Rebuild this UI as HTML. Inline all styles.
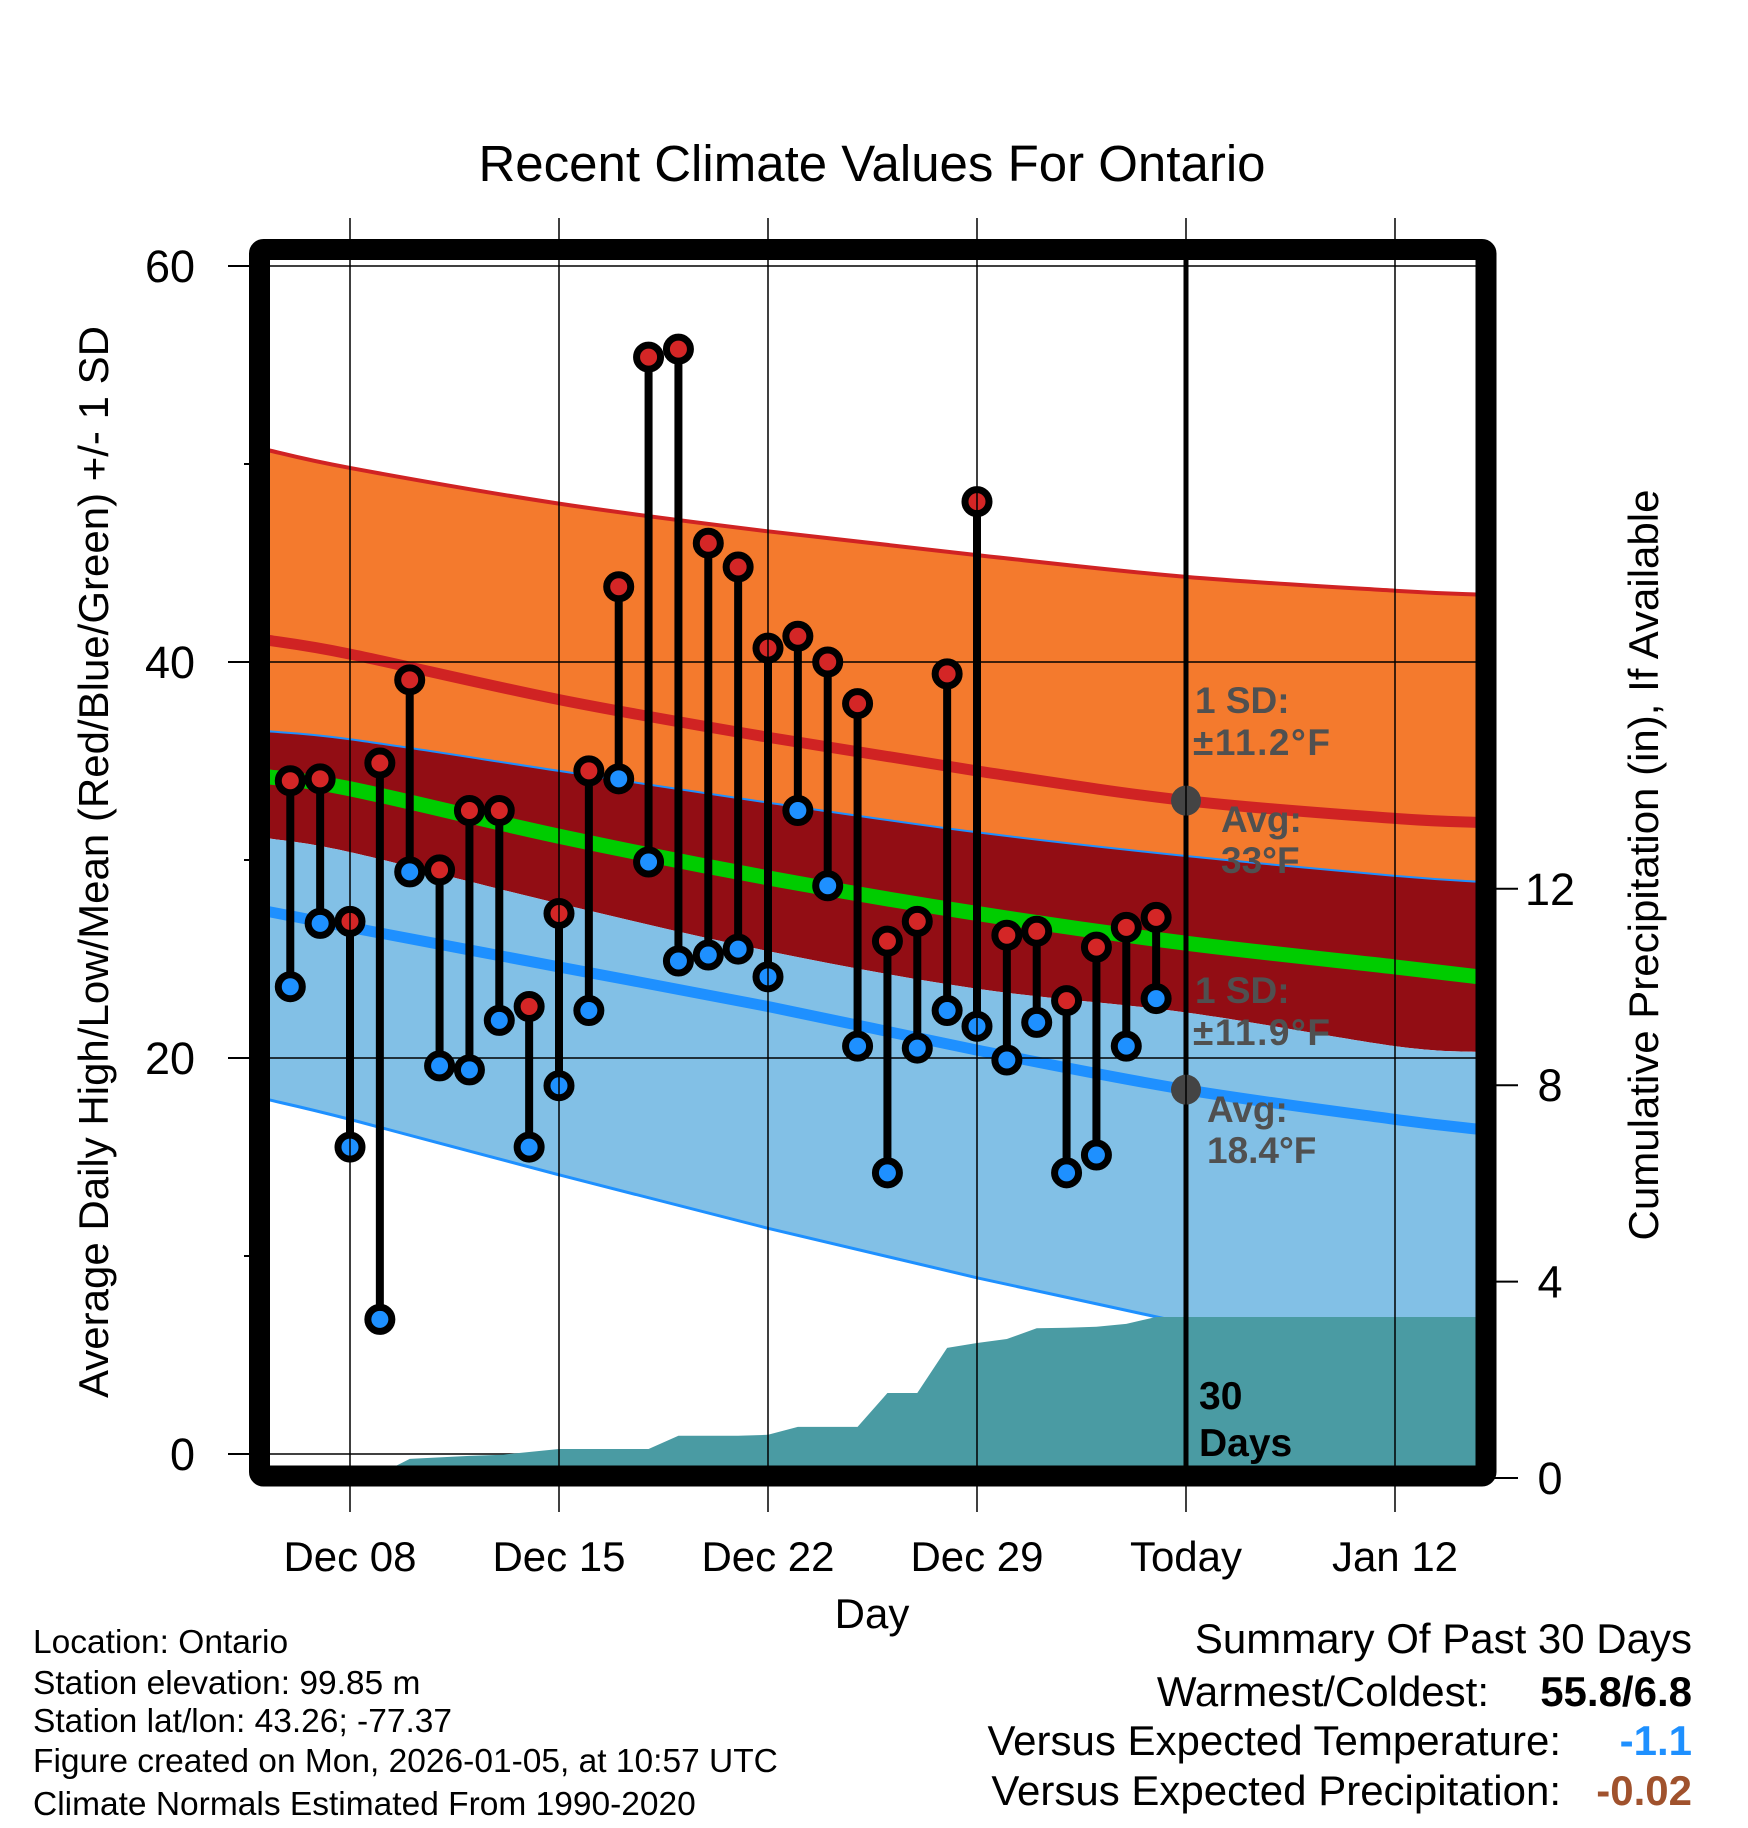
<!DOCTYPE html>
<html><head><meta charset="utf-8"><style>
html,body{margin:0;padding:0;background:#fff;}
svg{display:block;font-family:"Liberation Sans",sans-serif;}
</style></head><body>
<svg id="chart" width="1748" height="1828" viewBox="0 0 1748 1828">
<defs><clipPath id="pc"><rect x="260" y="250" width="1226" height="1226"/></clipPath></defs>
<g id="bands" clip-path="url(#pc)"></g>
<g id="axes"></g>
</svg>
<script>
// ---- data ----
const days = ["Dec 06","Dec 07","Dec 08","Dec 09","Dec 10","Dec 11","Dec 12","Dec 13","Dec 14","Dec 15","Dec 16","Dec 17","Dec 18","Dec 19","Dec 20","Dec 21","Dec 22","Dec 23","Dec 24","Dec 25","Dec 26","Dec 27","Dec 28","Dec 29","Dec 30","Dec 31","Jan 01","Jan 02","Jan 03","Jan 04"];
const highs = [34.0,34.1,26.9,34.9,39.1,29.5,32.5,32.5,22.6,27.3,34.5,43.8,55.4,55.8,46.0,44.8,40.7,41.3,40.0,37.9,25.9,26.9,39.4,48.1,26.2,26.4,22.9,25.6,26.6,27.1];
const lows  = [23.6,26.8,15.5,6.8,29.4,19.6,19.4,21.9,15.5,18.6,22.4,34.1,29.9,24.9,25.2,25.5,24.1,32.5,28.7,20.6,14.2,20.5,22.4,21.6,19.9,21.8,14.2,15.1,20.6,23.0];
const precip = [0,0,0,0.08,0.39,0.42,0.45,0.47,0.53,0.59,0.59,0.59,0.59,0.86,0.86,0.86,0.88,1.04,1.04,1.04,1.73,1.73,2.65,2.75,2.83,3.05,3.06,3.08,3.14,3.28];
// normals: day offsets from Dec 08
const normDays   = [-2.75,0,7,14,21,28,35,37.8];
const highPlusSD = [50.7,49.8,48.0,46.6,45.4,44.3,43.6,43.4];
const highMean   = [41.1,40.4,38.1,36.2,34.5,33.0,32.1,31.9];
const highMinusSD= [36.5,36.1,34.5,32.9,31.4,30.2,29.2,28.9];
const meanTemp   = [34.2,33.6,31.2,29.1,27.3,25.8,24.6,24.1];
const lowPlusSD  = [31.1,30.4,27.8,25.4,23.5,22.3,20.6,20.3];
const lowMean    = [27.4,26.6,24.6,22.6,20.4,18.4,16.9,16.4];
const lowMinusSD = [17.9,16.9,14.1,11.4,8.9,6.6,4.5,3.6];
const xTickLabels = ["Dec 08","Dec 15","Dec 22","Dec 29","Today","Jan 12"];
const yTicks = [0,20,40,60];
const yMinor = [10,30,50];
const pTicks = [0,4,8,12];

// ---- scales ----
const X = d => 350 + d*29.857;
const Y = v => 1454 - v*19.8;
const P = v => 1478 - v*49.1;
const NS = "http://www.w3.org/2000/svg";
function mk(tag, attrs, parent, txt){const e=document.createElementNS(NS,tag);for(const k in attrs)e.setAttribute(k,attrs[k]);if(txt!=null)e.textContent=txt;parent.appendChild(e);return e;}
const bands=document.getElementById('bands'), axes=document.getElementById('axes');

function pts(arr){return normDays.map((d,i)=>[X(d),Y(arr[i])]);}
function smooth(p){let s=`M${p[0][0]},${p[0][1]}`;for(let i=0;i<p.length-1;i++){const p0=p[i-1]||p[i],p1=p[i],p2=p[i+1],p3=p[i+2]||p2;s+=` C${p1[0]+(p2[0]-p0[0])/6},${p1[1]+(p2[1]-p0[1])/6} ${p2[0]-(p3[0]-p1[0])/6},${p2[1]-(p3[1]-p1[1])/6} ${p2[0]},${p2[1]}`;}return s;}
function smoothRev(p){const r=p.slice().reverse();return smooth(r).replace(/^M/,'L');}
function band(top,bot,fill,name){const e=mk('path',{d:smooth(pts(top))+' '+smoothRev(pts(bot))+' Z',fill:fill},bands);}
band(highPlusSD,highMinusSD,'#f47a2d','high-sd-band');
band(highMinusSD,lowPlusSD,'#920d14','overlap-band');
band(lowPlusSD,lowMinusSD,'#82c0e6','low-sd-band');
function line(arr,col,w,name){const e=mk('path',{d:smooth(pts(arr)),fill:'none',stroke:col,'stroke-width':w},bands);}
line(highPlusSD,'#d02323',4,'high-plus-sd-line');
line(highMinusSD,'#1e90ff',2,'high-minus-sd-line');
line(lowMinusSD,'#1e90ff',3,'low-minus-sd-line');
line(highMean,'#d02323',11,'high-mean-line');
line(meanTemp,'#00cc00',15,'mean-line');
line(lowMean,'#1e90ff',11,'low-mean-line');
yTicks.forEach(v=>{const e=mk('line',{x1:260,x2:1486,y1:Y(v),y2:Y(v),stroke:'#000','stroke-width':1.5},bands);});
xTickLabels.forEach((t,i)=>{const e=mk('line',{x1:X(i*7),x2:X(i*7),y1:218,y2:1512,stroke:'#000','stroke-width':1.5},axes);});
let pd=`M${X(-2)},${P(precip[0])}`;precip.forEach((v,i)=>{pd+=` L${X(i-2)},${P(v)}`;});
pd+=` L${X(37.8)},${P(precip[precip.length-1])} L${X(37.8)},${P(0)+30} L${X(-2)},${P(0)+30} Z`;
const pa=mk('path',{d:pd,fill:'#4a9ba3'},bands);


const tl=mk('line',{x1:X(28),x2:X(28),y1:250,y2:1476,stroke:'#000','stroke-width':5},bands);


days.forEach((d,i)=>{const x=X(i-2);
 const s=mk('line',{x1:x,x2:x,y1:Y(highs[i]),y2:Y(lows[i]),stroke:'#000','stroke-width':8},bands);
 
 
});
days.forEach((d,i)=>{const x=X(i-2);
 [[highs[i],'#d42626','high-marker'],[lows[i],'#1e90ff','low-marker']].forEach(([v,c,n])=>{
  const g=mk('g',{},bands);
  
  
  mk('circle',{cx:x,cy:Y(v),r:12,fill:c,stroke:'#000','stroke-width':7},g);
 });
});
[[highMean[5],'avg-high-dot'],[lowMean[5],'avg-low-dot']].forEach(([v,n])=>{const e=mk('circle',{cx:X(28),cy:Y(v),r:15,fill:'#444'},bands);});
function txt(x,y,s,attrs,name,parent){const e=mk('text',Object.assign({x:x,y:y},attrs),parent||axes,s);return e;}
const ann={'font-size':37,'font-weight':'bold',fill:'#505050'};
txt(1195,713,'1 SD:',ann,'high-sd-label');txt(1193,755,'±11.2°F',Object.assign({textLength:137},ann),'high-sd-value');
txt(1221,832,'Avg:',ann,'high-avg-label');txt(1221,873,'33°F',ann,'high-avg-value');
txt(1195,1003,'1 SD:',ann,'low-sd-label');txt(1193,1045,'±11.9°F',Object.assign({textLength:137},ann),'low-sd-value');
txt(1207,1122,'Avg:',ann,'low-avg-label');txt(1207,1163,'18.4°F',ann,'low-avg-value');
txt(1199,1409,'30',{'font-size':39,'font-weight':'bold',fill:'#000'},'days-label-num');
txt(1199,1456,'Days',{'font-size':39,'font-weight':'bold',fill:'#000'},'days-label-text');
const fr=mk('rect',{x:259.5,y:249.5,width:1226.5,height:1226.5,fill:'none',stroke:'#000','stroke-width':21,rx:4},axes);


yTicks.forEach(v=>{mk('line',{x1:228,x2:260,y1:Y(v),y2:Y(v),stroke:'#000','stroke-width':2},axes);
 txt(195,Y(v)+16,String(v),{'font-size':45,'text-anchor':'end'},'y-tick-label');});
yMinor.forEach(v=>{mk('line',{x1:244,x2:260,y1:Y(v),y2:Y(v),stroke:'#000','stroke-width':2},axes);});
pTicks.forEach(v=>{mk('line',{x1:1486,x2:1518,y1:P(v),y2:P(v),stroke:'#000','stroke-width':2},axes);
 txt(1550,P(v)+16,String(v),{'font-size':45,'text-anchor':'middle'},'right-tick-label');});
xTickLabels.forEach((t,i)=>{txt(X(i*7),1571,t,{'font-size':42,'text-anchor':'middle'},'x-tick-label');});
txt(872,1628,'Day',{'font-size':42,'text-anchor':'middle'},'x-axis-title');
txt(872,181,'Recent Climate Values For Ontario',{'font-size':51,'text-anchor':'middle'},'chart-title');
txt(0,0,'Average Daily High/Low/Mean (Red/Blue/Green) +/- 1 SD',{'font-size':42,'text-anchor':'middle',transform:'translate(108,862) rotate(-90)'},'y-axis-title');
txt(0,0,'Cumulative Precipitation (in), If Available',{'font-size':42,'text-anchor':'middle',transform:'translate(1658,865) rotate(-90)'},'right-axis-title');
['Location: Ontario','Station elevation: 99.85 m','Station lat/lon: 43.26; -77.37','Figure created on Mon, 2026-01-05, at 10:57 UTC','Climate Normals Estimated From 1990-2020'].forEach((s,i)=>{
 txt(33,[1653,1694,1732,1772,1815][i],s,{'font-size':33.5},'footer-info-line');});
txt(1692,1653,'Summary Of Past 30 Days',{'font-size':42,'text-anchor':'end'},'summary-title');
txt(1489,1706,'Warmest/Coldest:',{'font-size':42,'text-anchor':'end'},'warmest-coldest-label');
txt(1692,1706,'55.8/6.8',{'font-size':42,'text-anchor':'end','font-weight':'bold'},'warmest-coldest-value');
txt(1561,1755,'Versus Expected Temperature:',{'font-size':42,'text-anchor':'end'},'temp-departure-label');
txt(1692,1755,'-1.1',{'font-size':42,'text-anchor':'end','font-weight':'bold',fill:'#1e90ff'},'temp-departure-value');
txt(1561,1805,'Versus Expected Precipitation:',{'font-size':42,'text-anchor':'end'},'precip-departure-label');
txt(1692,1805,'-0.02',{'font-size':42,'text-anchor':'end','font-weight':'bold',fill:'#a0522d'},'precip-departure-value');
</script>
</body></html>
